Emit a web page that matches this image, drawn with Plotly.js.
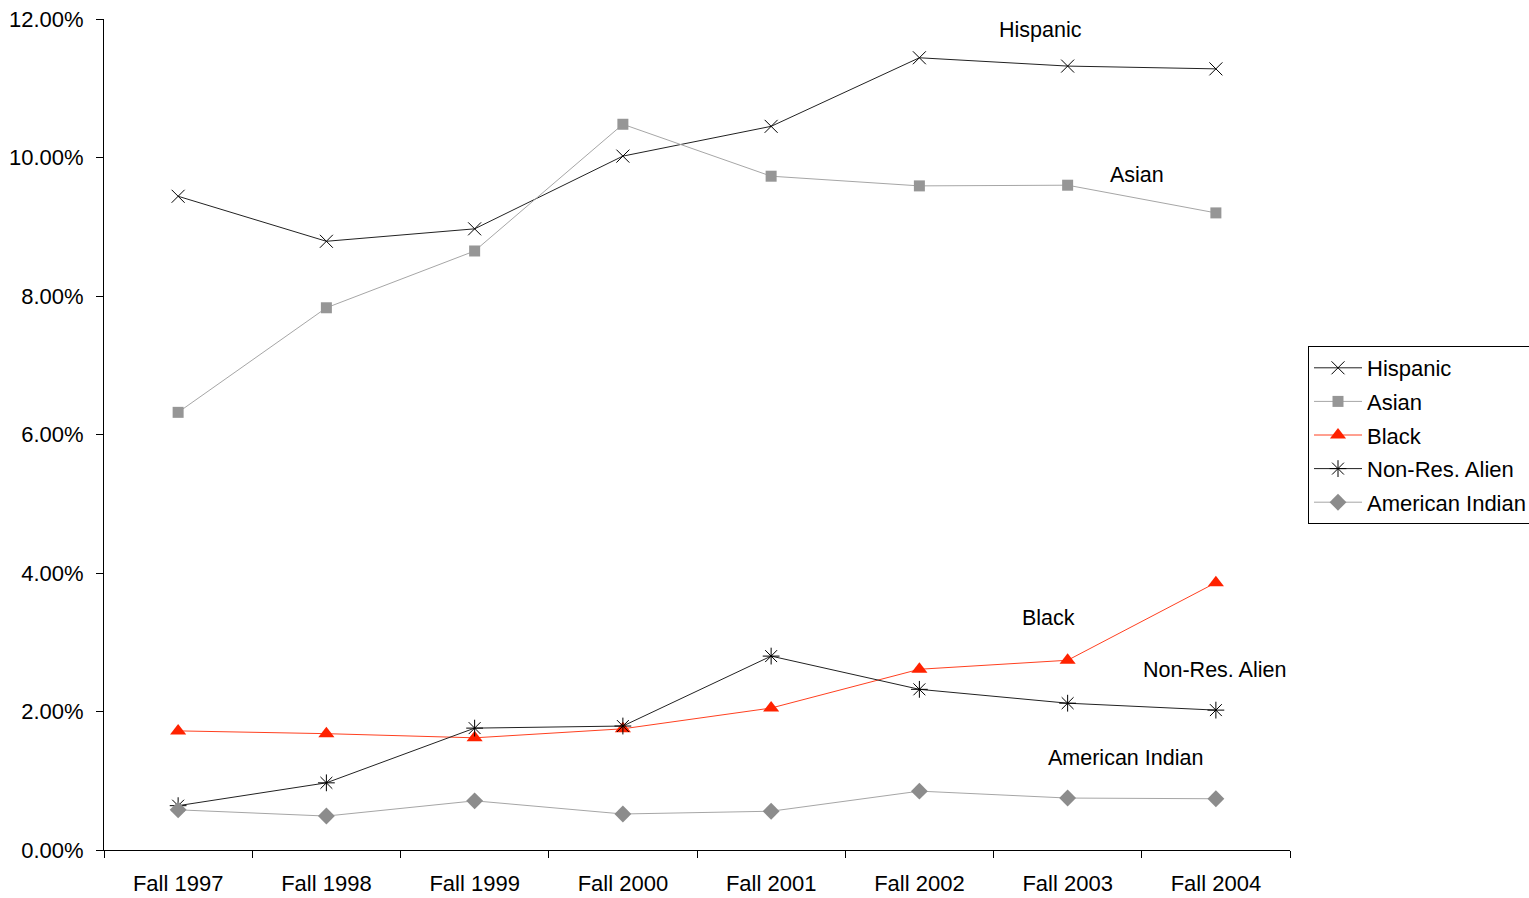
<!DOCTYPE html>
<html>
<head>
<meta charset="utf-8">
<script src="https://cdn.plot.ly/plotly-3.0.1.min.js"></script>
<style>html,body{margin:0;padding:0;background:#fff;}#chart{width:1529px;height:898px;}</style>
</head>
<body>
<div id="chart"></div>
<script>
const categories = ["Fall 1997","Fall 1998","Fall 1999","Fall 2000","Fall 2001","Fall 2002","Fall 2003","Fall 2004"];
const hispanic = [0.0944,0.0879,0.0897,0.1002,0.1045,0.1144,0.1132,0.1128];
const asian = [0.0632,0.0783,0.0865,0.1048,0.0973,0.0959,0.0960,0.0920];
const black = [0.0172,0.0168,0.0162,0.0175,0.0205,0.0261,0.0274,0.0386];
const nonResAlien = [0.0064,0.0097,0.0176,0.0179,0.0280,0.0232,0.0212,0.0202];
const americanIndian = [0.0058,0.0049,0.0071,0.0052,0.0056,0.0085,0.0075,0.0074];
const seriesNames = ["Hispanic","Asian","Black","Non-Res. Alien","American Indian"];

const FONT = "Liberation Sans, Arial, sans-serif";
const traces = [
  {name: seriesNames[0], legendgroup: "g0", x: categories, y: hispanic, mode: "lines+markers",
   line: {color: "#222222", width: 1}, marker: {symbol: "x-thin-open", size: 13, color: "#000", line: {color: "#000", width: 1}}},
  {name: seriesNames[1], legendgroup: "g1", x: categories, y: asian, mode: "lines+markers",
   line: {color: "#A6A6A6", width: 1}, marker: {symbol: "square", size: 11, color: "#969696"}},
  {name: seriesNames[2], legendgroup: "g2", x: categories, y: black, mode: "lines+markers",
   line: {color: "#FF4020", width: 1}, marker: {symbol: "triangle-up", size: 14, color: "#FF2200"}},
  {name: seriesNames[3], legendgroup: "g3", x: categories, y: nonResAlien, mode: "lines+markers",
   line: {color: "#222222", width: 1}, marker: {symbol: "asterisk-open", size: 14, color: "#000", line: {color: "#000", width: 1}}},
  {name: seriesNames[4], legendgroup: "g4", x: categories, y: americanIndian, mode: "lines+markers",
   line: {color: "#A6A6A6", width: 1}, marker: {symbol: "diamond", size: 13, color: "#8C8C8C"}}
];

const labelFont = {family: FONT, size: 21.5, color: "#000"};
const annotations = [
  {text: "Hispanic", x: 0.790, y: 0.1184},
  {text: "Asian", x: 0.871, y: 0.0975},
  {text: "Black", x: 0.796, y: 0.0335},
  {text: "Non-Res. Alien", x: 0.936, y: 0.0260},
  {text: "American Indian", x: 0.861, y: 0.0133}
].map(a => ({text: a.text, x: a.x, y: a.y, xref: "paper", yref: "y", showarrow: false, font: labelFont, xanchor: "center", yanchor: "middle"}));

const layout = {
  width: 1529, height: 898,
  margin: {l: 104, r: 239, t: 19, b: 48},
  paper_bgcolor: "#fff", plot_bgcolor: "#fff",
  font: {family: FONT, size: 22, color: "#000"},
  showlegend: true,
  legend: {xref: "container", yref: "container", x: 1308/1529, y: 1 - 346/898, xanchor: "left", yanchor: "top",
           bordercolor: "#000", borderwidth: 1,
           font: {family: FONT, size: 22, color: "#000"}, bgcolor: "#fff",
           tracegroupgap: 2, itemwidth: 48},
  xaxis: {type: "category", showgrid: false, zeroline: false, showline: true, linecolor: "#000", linewidth: 1,
          ticks: "outside", tickson: "boundaries", ticklen: 7, tickcolor: "#000",
          tickfont: {family: FONT, size: 22}, ticklabelstandoff: 14, range: [-0.5, 7.5]},
  yaxis: {range: [0, 0.12], dtick: 0.02, tickformat: ".2%", showgrid: false, zeroline: false,
          showline: true, linecolor: "#000", linewidth: 1, ticks: "outside", ticklen: 7, tickcolor: "#000",
          tickfont: {family: FONT, size: 22}, ticklabelstandoff: 8},
  annotations: annotations
};

Plotly.newPlot("chart", traces, layout, {displayModeBar: false, staticPlot: true});
</script>
</body>
</html>
